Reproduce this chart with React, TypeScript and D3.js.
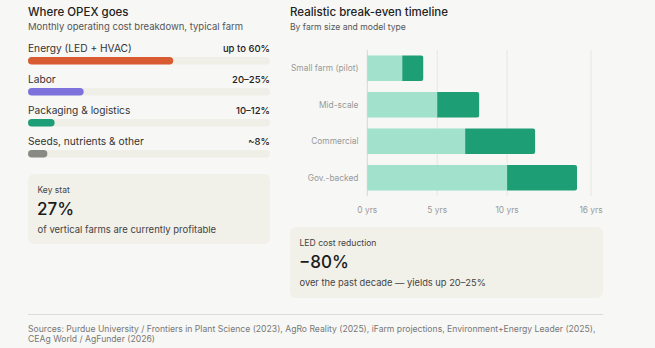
import React from "react";
import * as d3 from "d3";

const opexLabels = ["Energy (LED + HVAC)", "Labor", "Packaging & logistics", "Seeds, nutrients & other"];
const opexValueText = ["up to 60%", "20–25%", "10–12%", "~8%"];
const opexValues = [60, 23, 11, 8];
const opexColors = ["#d95b31", "#7d72dc", "#1e9e76", "#8a8a84"];

const farmTypes = ["Small farm (pilot)", "Mid-scale", "Commercial", "Gov.-backed"];
const breakEvenMin = [2.5, 5, 7, 10];
const breakEvenMax = [4, 8, 12, 15];
const yearTicks = [0, 5, 10, 16];

const W = 655;
const H = 348;
const FONT = "Inter, 'Noto Sans', sans-serif";

export default function App() {
  const opexX = d3.scaleLinear().domain([0, 100]).range([28, 270]);
  const rowY = d3.scaleBand<number>().domain(d3.range(opexLabels.length)).range([40, 164]);

  const x = d3.scaleLinear().domain([0, 16]).range([367.3, 591]);
  const y = d3.scaleBand<string>().domain(farmTypes).range([50, 196]).paddingInner(0.3).paddingOuter(0.15);

  const darkPath = (x0: number, x1: number, y0: number, h: number) => {
    const r = 2;
    return `M${x0},${y0}H${x1 - r}Q${x1},${y0} ${x1},${y0 + r}V${y0 + h - r}Q${x1},${y0 + h} ${x1 - r},${y0 + h}H${x0}Z`;
  };

  return (
    <svg width={W} height={H} style={{ position: "absolute", left: 0, top: 0, display: "block" }} fontFamily={FONT}>
      <rect width={W} height={H} fill="#f7f7f5" />

      {/* Left panel */}
      <text x={28} y={15.5} fontSize={11.5} fontWeight={500} fill="#222">Where OPEX goes</text>
      <text x={28} y={30} fontSize={9.5} fill="#555">Monthly operating cost breakdown, typical farm</text>
      {opexLabels.map((lab, i) => {
        const y0 = rowY(i)!;
        return (
          <g key={lab}>
            <text x={28} y={y0 + 12.2} fontSize={10.2} fill="#333">{lab}</text>
            <text x={270} y={y0 + 12.2} fontSize={9.5} fontWeight={500} textAnchor="end" fill="#222">{opexValueText[i]}</text>
            <rect x={opexX(0)} y={y0 + 17} width={opexX(100) - opexX(0)} height={7.5} rx={3.75} fill="#efeee7" />
            <rect x={opexX(0)} y={y0 + 17} width={opexX(opexValues[i]) - opexX(0)} height={7.5} rx={3.75} fill={opexColors[i]} />
          </g>
        );
      })}

      <rect x={28} y={174} width={242} height={70} rx={6} fill="#f1f0e9" />
      <text x={37.5} y={193} fontSize={8.5} fill="#444">Key stat</text>
      <text x={37} y={215} fontSize={17} fontWeight={500} fill="#1a1a1a">27%</text>
      <text x={37.5} y={233} fontSize={9.5} fill="#444">of vertical farms are currently profitable</text>

      {/* Right panel */}
      <text x={290} y={15.5} fontSize={11.5} fontWeight={500} fill="#222">Realistic break-even timeline</text>
      <text x={290} y={30} fontSize={8.6} fill="#555">By farm size and model type</text>

      {yearTicks.map((t) => (
        <line key={t} x1={x(t)} x2={x(t)} y1={50} y2={196} stroke={t === 0 ? "#d6d6d2" : "#e6e6e2"} strokeWidth={1} />
      ))}
      {farmTypes.map((f, i) => {
        const y0 = y(f)!;
        const h = y.bandwidth();
        return (
          <g key={f}>
            <rect x={x(0)} y={y0} width={x(breakEvenMin[i]) - x(0)} height={h} fill="#a2e1cb" />
            <path d={darkPath(x(breakEvenMin[i]), x(breakEvenMax[i]), y0, h)} fill="#1e9e75" />
            <text x={358.5} y={y0 + h / 2} dy="0.35em" fontSize={8.4} textAnchor="end" fill="#999">{f}</text>
          </g>
        );
      })}
      {yearTicks.map((t) => (
        <text key={t} x={x(t)} y={213} fontSize={8.4} textAnchor="middle" fill="#999">{`${t} yrs`}</text>
      ))}

      <rect x={290} y={227} width={313} height={71} rx={6} fill="#f1f0e9" />
      <text x={299.5} y={246} fontSize={8.6} fill="#444">LED cost reduction</text>
      <text x={299} y={268} fontSize={17} fontWeight={500} fill="#1a1a1a">−80%</text>
      <text x={299.5} y={286} fontSize={9.3} fill="#444">over the past decade — yields up 20–25%</text>

      {/* Footer */}
      <line x1={28} x2={603} y1={314.5} y2={314.5} stroke="#dcdcd8" />
      <text x={28} y={331.5} fontSize={8.65} fill="#777">Sources: Purdue University / Frontiers in Plant Science (2023), AgRo Reality (2025), iFarm projections, Environment+Energy Leader (2025),</text>
      <text x={28} y={341.5} fontSize={8.65} fill="#777">CEAg World / AgFunder (2026)</text>
    </svg>
  );
}
